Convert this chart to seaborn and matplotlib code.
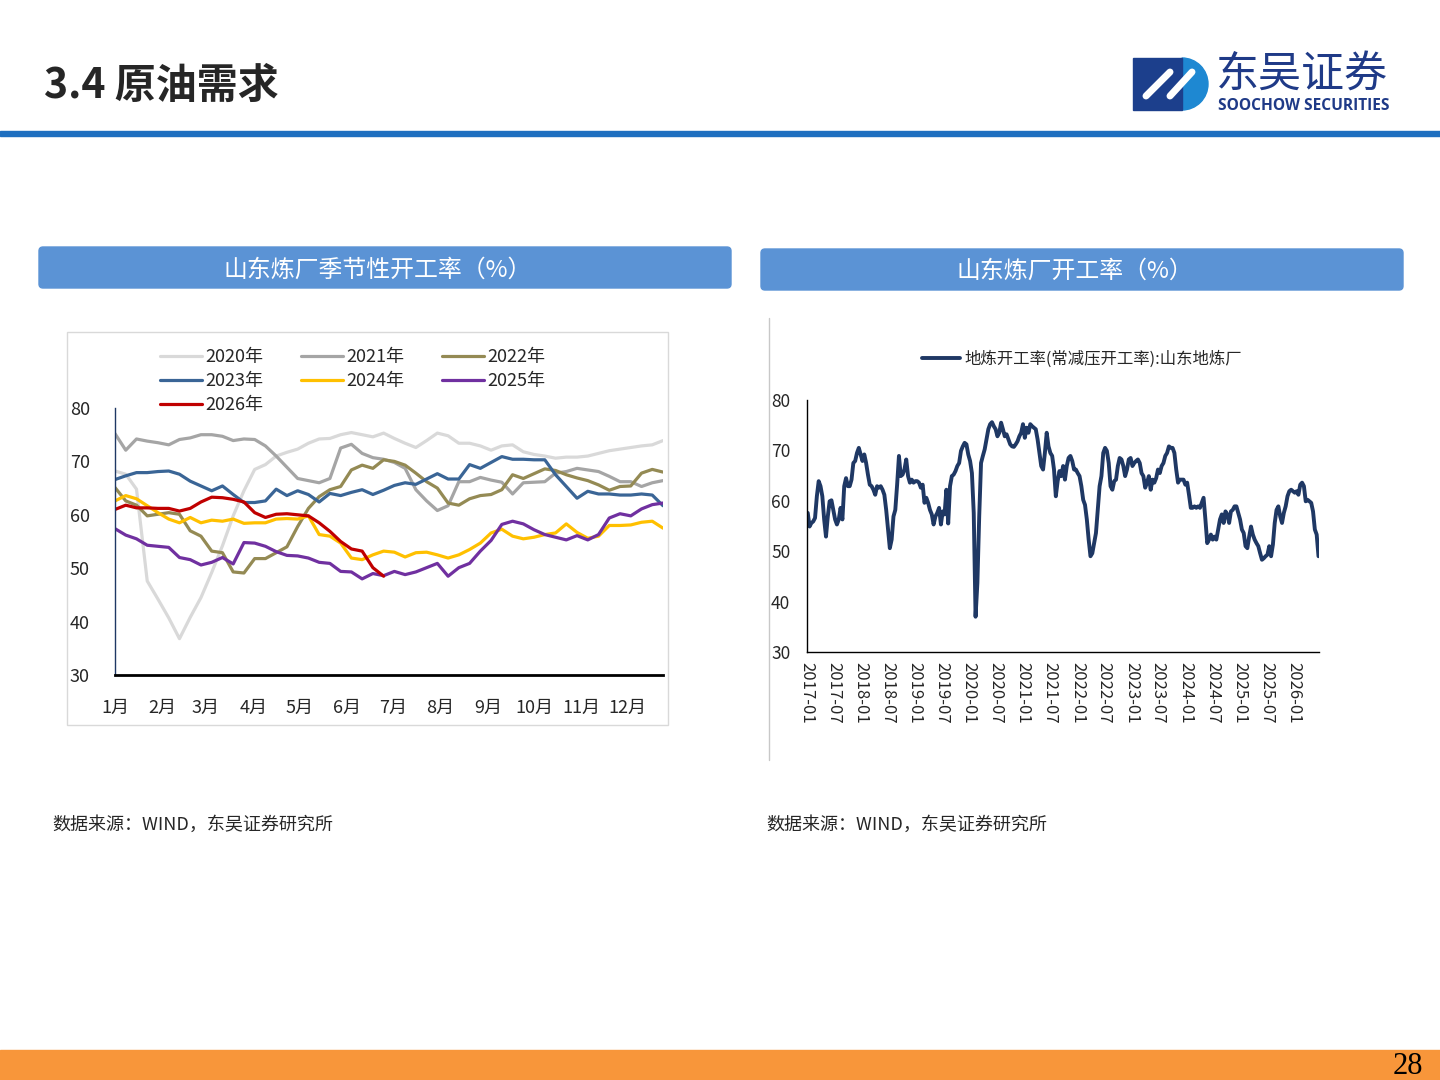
import matplotlib
matplotlib.use('Agg')
import matplotlib.pyplot as plt
from matplotlib.patches import FancyBboxPatch, Rectangle, Wedge
import numpy as np
import pandas as pd
import seaborn as sns

# ---------------- data ----------------
years = ['2020年', '2021年', '2022年', '2023年', '2024年', '2025年', '2026年']
colors = ['#D9D9D9', '#A5A5A5', '#948A54', '#3A6596', '#FFC000', '#7030A0', '#C00000']

# weekly points, x = day of year (52 weeks)
week_day = list(range(0, 358, 7))
month_days = [0, 31, 59, 90, 120, 151, 181, 212, 243, 273, 304, 334]
month_labels = ['1月', '2月', '3月', '4月', '5月', '6月', '7月', '8月', '9月', '10月', '11月', '12月']

s2020 = [68.2, 67.6, 64.8, 47.6, 44.2, 40.7, 36.8, 40.8, 44.5, 49.2,
         54.2, 59.8, 64.5, 68.5, 69.4, 71.0, 71.7, 72.3, 73.4, 74.2,
         74.3, 75.0, 75.4, 75.0, 74.6, 75.3, 74.3, 73.4, 72.6, 73.9,
         75.3, 74.8, 73.4, 73.4, 72.9, 72.1, 72.9, 73.1, 71.8, 71.3,
         71.0, 70.6, 70.8, 70.8, 71.0, 71.5, 72.0, 72.3, 72.6, 72.9,
         73.1, 73.9]
s2021 = [75.2, 72.1, 74.2, 73.8, 73.5, 73.1, 74.1, 74.4, 75.0, 75.0,
         74.7, 73.9, 74.2, 74.1, 72.9, 71.0, 68.9, 66.8, 66.4, 66.0,
         66.8, 72.5, 73.2, 71.5, 70.7, 70.4, 69.8, 68.7, 64.7, 62.6,
         60.8, 61.7, 66.2, 66.2, 67.0, 66.5, 66.1, 63.9, 66.0, 66.1,
         66.2, 67.8, 68.1, 68.7, 68.4, 68.1, 67.2, 66.2, 66.2, 65.3,
         66.0, 66.4]
s2022 = [65.1, 62.6, 61.8, 59.8, 60.1, 60.4, 60.1, 57.0, 56.0, 53.2,
         52.9, 49.3, 49.1, 51.8, 51.8, 52.9, 54.0, 57.8, 61.2, 63.4,
         64.7, 65.3, 68.4, 69.3, 68.7, 70.3, 70.0, 69.3, 67.8, 66.2,
         65.0, 62.2, 61.8, 63.0, 63.6, 63.8, 64.7, 67.5, 66.8, 67.7,
         68.6, 68.3, 67.5, 66.9, 66.4, 65.6, 64.6, 65.3, 65.4, 67.8,
         68.5, 68.0]
s2023 = [66.6, 67.3, 67.9, 67.9, 68.1, 68.2, 67.6, 66.3, 65.4, 64.5,
         65.4, 63.8, 62.3, 62.3, 62.6, 64.8, 63.6, 64.5, 63.8, 62.4,
         64.0, 63.6, 64.2, 64.7, 63.8, 64.6, 65.5, 66.0, 65.7, 66.7,
         67.7, 66.7, 66.7, 69.4, 68.7, 69.8, 70.9, 70.4, 70.4, 70.3,
         70.3, 67.5, 65.3, 63.1, 64.4, 63.9, 63.9, 63.7, 63.7, 63.9,
         63.7, 61.7]
s2024 = [62.6, 63.6, 63.0, 61.7, 60.4, 59.2, 58.5, 59.5, 58.5, 59.0,
         58.8, 59.2, 58.4, 58.5, 58.5, 59.2, 59.3, 59.2, 59.8, 56.3,
         56.0, 54.7, 51.9, 51.6, 52.5, 53.2, 53.0, 52.1, 52.9, 53.0,
         52.5, 51.9, 52.5, 53.5, 54.7, 56.6, 57.3, 56.0, 55.5, 55.8,
         56.3, 56.6, 58.3, 56.7, 55.6, 56.0, 58.0, 58.0, 58.1, 58.6,
         58.8, 57.5]
s2025 = [57.4, 56.2, 55.5, 54.3, 54.1, 53.9, 52.0, 51.6, 50.6, 51.1,
         52.0, 50.8, 54.8, 54.7, 54.1, 53.1, 52.4, 52.3, 51.9, 51.1,
         50.9, 49.4, 49.3, 48.0, 49.0, 48.6, 49.4, 48.8, 49.3, 50.1,
         50.9, 48.5, 50.1, 50.9, 53.2, 55.2, 58.2, 58.8, 58.3, 57.2,
         56.3, 55.8, 55.3, 56.1, 55.3, 56.3, 59.4, 60.2, 59.8, 61.1,
         61.9, 62.2]
s2026 = [61.0, 61.8, 61.3, 61.3, 61.2, 61.2, 60.7, 61.2, 62.4, 63.3,
         63.2, 62.9, 62.4, 60.4, 59.5, 60.1, 60.2, 60.0, 59.8, 58.5,
         56.9, 55.0, 53.6, 53.2, 50.1, 48.5]

# 山东地炼开工率, roughly every 12 days from 2017-01 to 2026-06
sd_rate = [57.6, 54.9, 55.6, 55.9, 56.6, 60.9, 63.9, 62.9, 60.9, 56.3, 52.9, 56.9, 59.9, 60.1, 58.2, 56.3, 55.3, 56.3, 58.6, 56.3,
           62.9, 64.5, 62.9, 62.9, 64.2, 67.5, 67.9, 69.5, 70.5, 69.2, 67.9, 69.2, 67.5, 65.2, 63.2, 62.9, 62.2, 61.2, 62.9, 62.6,
           62.9, 62.2, 61.2, 58.2, 54.3, 50.6, 52.3, 56.9, 58.2, 63.2, 68.9, 64.9, 65.2, 66.2, 68.2, 64.9, 63.6, 64.2, 63.6, 63.9,
           63.9, 63.6, 62.6, 63.2, 59.6, 60.6, 59.6, 58.2, 57.3, 55.3, 56.9, 57.6, 58.6, 55.3, 57.9, 57.3, 62.2, 55.5, 62.9, 64.9,
           65.2, 65.9, 66.9, 67.5, 69.9, 70.8, 71.5, 71.2, 69.2, 67.9, 65.5, 57.6, 37.0, 43.7, 56.9, 67.5, 68.9, 70.2, 72.2, 74.2,
           75.2, 75.6, 74.8, 74.2, 72.8, 73.5, 75.5, 74.2, 72.8, 73.2, 72.2, 71.2, 70.8, 70.7, 71.2, 71.8, 72.8, 73.5, 75.2, 72.5,
           74.5, 73.5, 75.2, 74.8, 74.5, 74.2, 72.2, 69.5, 66.9, 66.2, 69.5, 73.5, 70.8, 69.5, 68.9, 66.2, 60.9, 63.9, 65.9, 64.9,
           66.9, 64.2, 66.9, 68.5, 68.9, 67.9, 66.2, 66.2, 65.5, 64.9, 62.9, 60.2, 59.2, 56.3, 52.3, 49.0, 49.6, 51.6, 53.6, 58.2,
           62.9, 64.9, 69.5, 70.5, 69.9, 67.5, 62.9, 62.2, 63.9, 64.2, 66.9, 68.5, 68.2, 66.9, 64.9, 66.2, 68.2, 68.5, 66.9, 67.5,
           67.9, 68.2, 67.5, 65.5, 64.9, 62.6, 63.6, 64.9, 62.2, 64.2, 63.6, 64.5, 66.2, 65.5, 66.9, 67.5, 68.9, 69.5, 70.8, 70.5,
           70.5, 69.5, 66.2, 63.6, 64.2, 64.2, 64.2, 63.2, 63.6, 61.2, 58.6, 58.6, 58.9, 58.6, 58.9, 58.6, 59.6, 60.6, 56.3, 51.6,
           52.3, 53.3, 52.3, 52.9, 52.3, 54.3, 56.3, 57.3, 55.6, 57.9, 57.3, 55.6, 57.9, 58.2, 58.9, 58.9, 57.6, 56.3, 54.3, 53.6,
           51.0, 50.6, 52.9, 54.9, 53.3, 52.3, 51.6, 51.0, 49.6, 48.3, 48.6, 49.0, 49.3, 51.0, 49.0, 51.3, 55.6, 58.2, 58.9, 56.9,
           55.6, 57.6, 58.9, 60.9, 61.9, 62.2, 61.9, 61.6, 61.9, 61.2, 63.2, 63.6, 62.9, 59.9, 60.2, 59.9, 59.6, 57.9, 54.3, 53.3, 49.0]
sd_label = '地炼开工率(常减压开工率):山东地炼厂'

# ---------------- style ----------------
sns.set_style('white')
plt.rcParams['font.family'] = ['Noto Sans CJK SC', 'DejaVu Sans']
plt.rcParams['axes.unicode_minus'] = False

W, H = 1440, 1080
fig = plt.figure(figsize=(14.4, 10.8), dpi=100)

# page decoration in pixel coords
bg = fig.add_axes([0, 0, 1, 1], zorder=0)
bg.set_xlim(0, W)
bg.set_ylim(H, 0)
bg.axis('off')

bg.text(44, 86, '3.4 原油需求', fontsize=29.5, fontweight='bold', ha='left', va='center')
bg.add_patch(Rectangle((0, 131), W, 5, color='#1E6FC0'))
bg.add_patch(Rectangle((0, 1050), W, 30, color='#F8963A'))
bg.text(1408, 1067, '28', fontsize=22, family=['Liberation Serif', 'DejaVu Serif'],
        ha='center', va='center', color='black')

# logo
bg.add_patch(Wedge((1182, 84), 26, -90, 90, color='#1E88D2'))
bg.add_patch(Rectangle((1133, 58), 49, 52, color='#1C3F8C'))
bg.plot([1146, 1170], [96, 72], color='white', lw=5, solid_capstyle='round')
bg.plot([1170, 1192], [96, 72], color='white', lw=5, solid_capstyle='round')
bg.text(1216, 75, '东吴证券', fontsize=31, color='#1F3A87', ha='left', va='center')
bg.text(1218, 106, 'SOOCHOW SECURITIES', fontsize=11.2, fontweight='bold',
        family=['Open Sans', 'DejaVu Sans'], color='#1F3A87', ha='left', va='center')

# panel title bars
bg.add_patch(FancyBboxPatch((39, 247), 692, 41, boxstyle='round,pad=0,rounding_size=4',
                            color='#5B93D5'))
bg.text(378, 270, '山东炼厂季节性开工率（%）', fontsize=17.2, color='white', ha='center', va='center')
bg.add_patch(FancyBboxPatch((761, 249), 642, 41, boxstyle='round,pad=0,rounding_size=4',
                            color='#5B93D5'))
bg.text(1075, 271, '山东炼厂开工率（%）', fontsize=17.2, color='white', ha='center', va='center')

bg.add_patch(Rectangle((67, 332), 601, 393, fill=False, ec='#D9D9D9', lw=1))
bg.plot([769, 769], [318, 760], color='#C8C8C8', lw=1)

bg.text(52, 825, '数据来源：WIND，东吴证券研究所', fontsize=13, style='italic', ha='left', va='center')
bg.text(766, 825, '数据来源：WIND，东吴证券研究所', fontsize=13, style='italic', ha='left', va='center')

# ---------------- left chart ----------------
series = [s2020, s2021, s2022, s2023, s2024, s2025, s2026]
rows = []
for yr, vals in zip(years, series):
    for d, v in zip(week_day, vals):
        rows.append((yr, d, v))
df_left = pd.DataFrame(rows, columns=['year', 'day', 'value'])

ax1 = fig.add_axes([115 / W, 1 - 675 / H, 548 / W, 267 / H], zorder=2)
ax1.patch.set_alpha(0)
sns.lineplot(data=df_left, x='day', y='value', hue='year', hue_order=years,
             palette=dict(zip(years, colors)), linewidth=2.3, ax=ax1,
             estimator=None, sort=False)
handles, labels = ax1.get_legend_handles_labels()
ax1.get_legend().remove()
order = [0, 3, 6, 1, 4, 2, 5]
leg = fig.legend([handles[i] for i in order], [labels[i] for i in order], ncol=3,
                 loc='upper left', bbox_to_anchor=(160 / W, 1 - 348 / H), frameon=False,
                 fontsize=13, handlelength=2.3, handletextpad=0.2, columnspacing=2.1,
                 labelspacing=0.34, borderpad=0, borderaxespad=0)
for line in leg.get_lines():
    line.set_linewidth(2.3)

ax1.set_xlim(0, 357)
ax1.set_ylim(30, 80)
ax1.set_yticks([30, 40, 50, 60, 70, 80])
ax1.set_xticks(month_days)
ax1.set_xticklabels(month_labels)
ax1.set_xlabel('')
ax1.set_ylabel('')
for s in ['top', 'right']:
    ax1.spines[s].set_visible(False)
ax1.spines['left'].set_color('#1F3864')
ax1.spines['left'].set_linewidth(1)
ax1.spines['bottom'].set_color('black')
ax1.spines['bottom'].set_linewidth(2)
ax1.tick_params(axis='x', direction='in', length=6, width=1.5, color='black',
                labelsize=13, pad=17)
ax1.tick_params(axis='y', direction='in', length=6, width=1, color='#1F3864',
                labelsize=13, pad=18)

# ---------------- right chart ----------------
sd_dates = pd.date_range('2017-01-06', '2026-06-18', periods=len(sd_rate))
ax2 = fig.add_axes([807 / W, 1 - 652 / H, 511.5 / W, 252 / H], zorder=2)
ax2.patch.set_alpha(0)
sns.lineplot(x=sd_dates, y=sd_rate, color='#1F3864', linewidth=2.8, ax=ax2, label=sd_label)
ax2.legend(loc='center', bbox_to_anchor=(1082 / W, 1 - 359 / H),
           bbox_transform=fig.transFigure, frameon=False, fontsize=11.8,
           handlelength=2.3, handletextpad=0.25, borderpad=0)
ax2.set_xlim(pd.Timestamp('2017-01-01'), pd.Timestamp('2026-06-18'))
ax2.set_ylim(30, 80)
ax2.set_yticks([30, 40, 50, 60, 70, 80])
xt = pd.date_range('2017-01-01', '2026-01-01', freq='6MS')
ax2.set_xticks(xt)
ax2.set_xticklabels([d.strftime('%Y-%m') for d in xt], rotation=-90)
ax2.set_xlabel('')
ax2.set_ylabel('')
for s in ['top', 'right']:
    ax2.spines[s].set_visible(False)
for s in ['left', 'bottom']:
    ax2.spines[s].set_color('black')
    ax2.spines[s].set_linewidth(1)
ax2.tick_params(axis='x', direction='in', length=5, width=1, color='black',
                labelsize=12, pad=7)
ax2.tick_params(axis='y', direction='in', length=5, width=1, color='black',
                labelsize=12.5, pad=12)

fig.savefig('out.png', dpi=100)
